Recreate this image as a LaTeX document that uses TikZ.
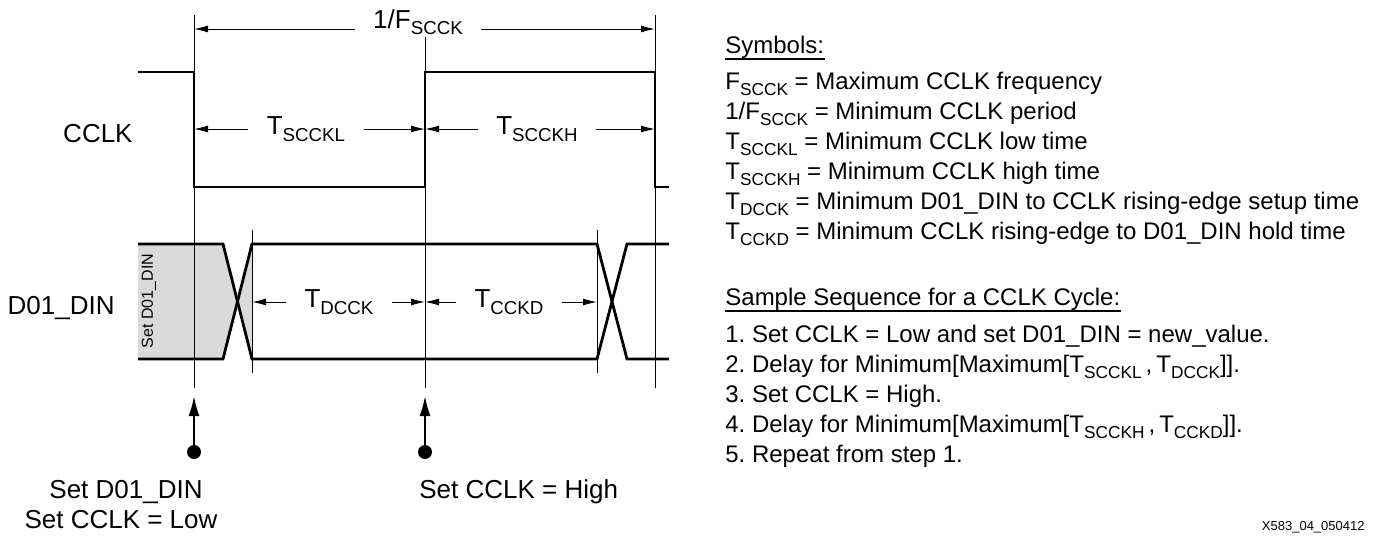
\documentclass[tikz,border=0pt]{standalone}
\usepackage{fontspec}
\setmainfont{Liberation Sans}
\usepackage{graphicx}
\usetikzlibrary{arrows,arrows.meta}
\definecolor{olddata}{RGB}{218,218,218}
\newcommand{\sbs}[1]{\raisebox{-0.25em}{\scalebox{0.72}{#1}}}
\frenchspacing

\begin{document}
\begin{tikzpicture}[x=0.5pt, y=-0.5pt, font=\fontsize{13}{15}\selectfont,
	wave/.style={line width=1.4pt, line join=miter},
	guide/.style={line width=0.5pt},
	dim/.style={line width=0.5pt, -{Latex[length=7pt,width=3.5pt]}},
	pointer/.style={line width=1pt, -{Latex[length=10pt,width=5.5pt]}},
	dot/.style={circle, fill, inner sep=0pt, minimum size=7pt},
	dimlabel/.style={inner xsep=9pt, inner ysep=0pt},
	legend/.style={font=\fontsize{12}{14}\selectfont, anchor=base west, inner sep=0pt}]

	\useasboundingbox (0,0) rectangle (1373,537);

	% Signalnamen
	\node[anchor=base east, inner sep=0pt] (clkname) at (133,142) {CCLK};
	\node[anchor=base east, inner sep=0pt] (dinname) at (115,314) {D01\_DIN};

	% D01_DIN, alter Wert
	\fill[olddata] (138,244) -- (223,244) -- (237.5,301.5) -- (223,359) -- (138,359) -- cycle;
	\fill[olddata] (237.5,301.5) -- (252,244) -- (252,359) -- cycle;
	\node[rotate=90, inner sep=0pt, font=\fontsize{8}{9}\selectfont] (oldlbl) at (149,301) {Set D01\_DIN};

	% Hilfslinien
	\coordinate (g1t) at (194,15);
	\coordinate (g1b) at (194,388);
	\coordinate (g2t) at (425,37);
	\coordinate (g2b) at (425,388);
	\coordinate (g3t) at (655,15);
	\coordinate (g3b) at (655,388);
	\draw[guide] (g1t) -- (g1b);
	\draw[guide] (g2t) -- (g2b);
	\draw[guide] (g3t) -- (g3b);

	% CCLK
	\draw[wave] (138,72) -- (194,72) -- (194,187) -- (425,187) -- (425,72) -- (655,72) -- (655,187) -- (669,187);

	% D01_DIN
	\draw[wave] (138,244) -- (223,244) -- (252,359) -- (597,359) -- (627,244) -- (669,244);
	\draw[wave] (138,359) -- (223,359) -- (252,244) -- (597,244) -- (627,359) -- (669,359);
	\draw[guide] (252,230) -- (252,373);
	\draw[guide] (597,230) -- (597,373);

	% Periode
	\node[anchor=base, dimlabel] (fper) at (418,28) {1/F\sbs{SCCK}};
	\coordinate (fl) at (194,29);
	\coordinate (fr) at (655,29);
	\draw[dim] (fper.west |- fl) -- (fl);
	\draw[dim] (fper.east |- fr) -- (fr);

	% Low- und High-Zeit
	\node[dimlabel] (tlow) at (306,129) {T\sbs{SCCKL}};
	\node[dimlabel] (thigh) at (537,129) {T\sbs{SCCKH}};
	\coordinate (lowl) at (194,129);
	\coordinate (mid1) at (425,129);
	\coordinate (highr) at (655,129);
	\draw[dim] (tlow) -- (lowl);
	\draw[dim] (tlow) -- (mid1);
	\draw[dim] (thigh) -- (mid1);
	\draw[dim] (thigh) -- (highr);

	% Setup und Hold
	\node[dimlabel] (tsetup) at (339,302) {T\sbs{DCCK}};
	\node[dimlabel] (thold) at (509,302) {T\sbs{CCKD}};
	\coordinate (setl) at (252,302);
	\coordinate (mid2) at (425,302);
	\coordinate (holdr) at (597,302);
	\draw[dim] (tsetup) -- (setl);
	\draw[dim] (tsetup) -- (mid2);
	\draw[dim] (thold) -- (mid2);
	\draw[dim] (thold) -- (holdr);

	% Zeitpunkte
	\node[dot] (set1) at (194,452) {};
	\node[dot] (set2) at (425,452) {};
	\coordinate (tip1) at (194,396);
	\coordinate (tip2) at (425,396);
	\draw[pointer] (set1) -- (tip1);
	\draw[pointer] (set2) -- (tip2);

	\node[anchor=base, inner sep=0pt] (setdin) at (126,498) {Set D01\_DIN};
	\node[anchor=base, inner sep=0pt] (setlow) at (121,528) {Set CCLK = Low};
	\node[anchor=base west, inner sep=0pt] (sethigh) at (419,498) {Set CCLK = High};

	% Symbole
	\node[legend] (symhead) at (725,53) {Symbols:};
	\draw[line width=1.3pt] ([yshift=-3pt]symhead.base west) -- ([yshift=-3pt]symhead.base east);
	\node[legend] (sym1) at (725,89) {F\sbs{SCCK} = Maximum CCLK frequency};
	\node[legend] (sym2) at (725,119) {1/F\sbs{SCCK} = Minimum CCLK period};
	\node[legend] (sym3) at (725,149) {T\sbs{SCCKL} = Minimum CCLK low time};
	\node[legend] (sym4) at (725,179) {T\sbs{SCCKH} = Minimum CCLK high time};
	\node[legend] (sym5) at (725,209) {T\sbs{DCCK} = Minimum D01\_DIN to CCLK rising-edge setup time};
	\node[legend] (sym6) at (725,239) {T\sbs{CCKD} = Minimum CCLK rising-edge to D01\_DIN hold time};

	% Ablauf
	\node[legend] (seqhead) at (725,305) {Sample Sequence for a CCLK Cycle:};
	\draw[line width=1.3pt] ([yshift=-3pt]seqhead.base west) -- ([yshift=-3pt]seqhead.base east);
	\node[legend] (seq1) at (725,342) {1. Set CCLK = Low and set D01\_DIN = new\_value.};
	\node[legend] (seq2) at (725,372) {2. Delay for Minimum[Maximum[T\sbs{SCCKL}\,,\,T\sbs{DCCK}]].};
	\node[legend] (seq3) at (725,402) {3. Set CCLK = High.};
	\node[legend] (seq4) at (725,432) {4. Delay for Minimum[Maximum[T\sbs{SCCKH}\,,\,T\sbs{CCKD}]].};
	\node[legend] (seq5) at (725,462) {5. Repeat from step 1.};

	\node[anchor=base east, inner sep=0pt, font=\fontsize{6.5}{8}\selectfont] (figid) at (1365,530) {X583\_04\_050412};

\end{tikzpicture}
\end{document}
